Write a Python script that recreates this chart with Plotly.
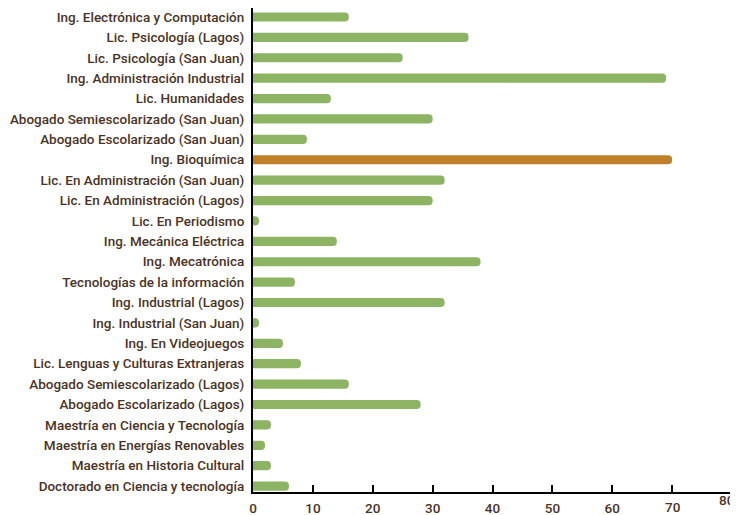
import plotly.graph_objects as go

programs = [
    "Ing. Electrónica y Computación",
    "Lic. Psicología (Lagos)",
    "Lic. Psicología (San Juan)",
    "Ing. Administración Industrial",
    "Lic. Humanidades",
    "Abogado Semiescolarizado (San Juan)",
    "Abogado Escolarizado (San Juan)",
    "Ing. Bioquímica",
    "Lic. En Administración (San Juan)",
    "Lic. En Administración (Lagos)",
    "Lic. En Periodismo",
    "Ing. Mecánica Eléctrica",
    "Ing. Mecatrónica",
    "Tecnologías de la información",
    "Ing. Industrial (Lagos)",
    "Ing. Industrial (San Juan)",
    "Ing. En Videojuegos",
    "Lic. Lenguas y Culturas Extranjeras",
    "Abogado Semiescolarizado (Lagos)",
    "Abogado Escolarizado (Lagos)",
    "Maestría en Ciencia y Tecnología",
    "Maestría en Energías Renovables",
    "Maestría en Historia Cultural",
    "Doctorado en Ciencia y tecnología",
]
values = [16, 36, 25, 69, 13, 30, 9, 70, 32, 30, 1, 14, 38, 7, 32, 1, 5, 8, 16, 28, 3, 2, 3, 6]
highlight = "Ing. Bioquímica"
x_ticks = [0, 10, 20, 30, 40, 50, 60, 70, 80]
raised_ticks = {70: -15, 80: -8}   # labels drawn slightly higher in the reference

GREEN = "#8cb463"
ORANGE = "#c0802a"
TEXT = "#4a3326"
FONT = dict(family="Roboto", size=13.5, color=TEXT, weight=500)

colors = [ORANGE if p == highlight else GREEN for p in programs]

fig = go.Figure(go.Bar(
    x=values, y=programs, orientation="h",
    marker=dict(color=colors, line=dict(width=0)),
    hoverinfo="x+y",
))

# the page body adds an 8px offset; margins compensate for it
fig.update_layout(
    width=738, height=515,
    margin=dict(l=245, r=14, t=0, b=31, autoexpand=False),
    plot_bgcolor="white", paper_bgcolor="white",
    bargap=0.55,
    barcornerradius=5,
    showlegend=False,
    font=FONT,
)
fig.update_xaxes(
    range=[0, 80], tickvals=x_ticks,
    ticktext=["" if t in raised_ticks else str(t) for t in x_ticks],
    showgrid=False, zeroline=False,
    showline=True, linecolor="black", linewidth=1.5,
    ticks="inside", ticklen=7, tickcolor="black", tickwidth=1.5,
    ticklabelstandoff=3,
    tickfont=FONT, automargin=False,
)
fig.update_yaxes(
    range=[23.29, -0.44], showgrid=False, zeroline=False,
    showline=True, linecolor="black", linewidth=2,
    ticks="", ticklabelstandoff=4,
    tickfont=FONT, automargin=False,
)
for t, dy in raised_ticks.items():
    fig.add_annotation(
        x=t, xref="x", y=0, yref="paper", text=str(t), showarrow=False,
        xanchor="center", yanchor="middle", yshift=dy,
        xshift=-6 if t == 80 else 0, font=FONT,
    )

fig.write_html("out.html")
